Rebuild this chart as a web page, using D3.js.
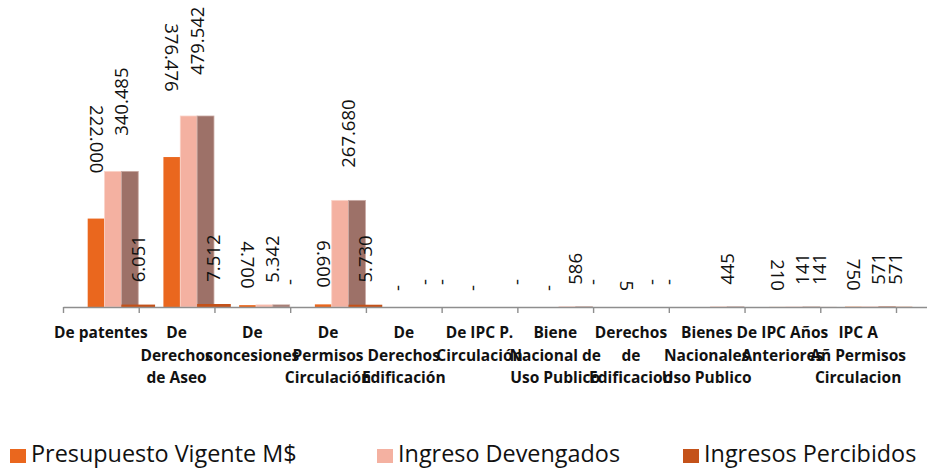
<!DOCTYPE html>
<html>
<head>
<meta charset="utf-8">
<script src="https://cdn.jsdelivr.net/npm/d3@7"></script>
<style>
  body { margin: 0; background: #fff; }
  svg { display: block; font-family: "Open Sans", sans-serif; }
</style>
</head>
<body>
<svg id="grafico"></svg>
<script>
const WIDTH = 927,
    HEIGHT = 468;

// etiquetas del eje, ya cortadas en lineas como en el original
const etiquetasCategorias = [
    ["De patentes"],
    ["De", "Derechos", "de Aseo"],
    ["De", "concesiones"],
    ["De", "Permisos", "Circulación"],
    ["De", "Derechos", "Edificación"],
    ["De IPC P.", "Circulación"],
    ["Biene", "Nacional de", "Uso Publico"],
    ["Derechos", "de", "Edificacion"],
    ["Bienes", "Nacionales", "Uso Publico"],
    ["De IPC Años", "Anteriores"],
    ["IPC A", "Añ Permisos", "Circulacion"]
];
const categorias = etiquetasCategorias.map(l => l.join(" "));

const presupuestoVigente = [222000, 376476, 4700, 6600, 0, 0, 0, 5, null, 210, 750];
const ingresoDevengados = [340485, 479542, 5342, 267680, 0, null, 586, 0, 445, 141, 571];
const devengadosSinLeyenda = [340485, 479542, 5342, 267680, 0, 0, 586, 0, 445, 141, 571];
const ingresosPercibidos = [6051, 7512, 0, 5730, 0, 0, 0, 0, null, 141, 571];

const leyenda = ["Presupuesto Vigente M$", "Ingreso Devengados", "Ingresos Percibidos"];

const colores = {
    presupuesto: "#EA671E",
    devengado: "#F4B1A1",
    sinLeyenda: "#9D7168",
    percibido: "#C4521A"
};

const base = 307;

const svg = d3.select("#grafico")
    .attr("width", WIDTH)
    .attr("height", HEIGHT);

svg.append("rect").attr("width", WIDTH).attr("height", HEIGHT).attr("fill", "#fff");

const escalaX = d3.scaleBand()
    .domain(categorias)
    .range([63, 896])
    .padding(0);
const bw = escalaX.bandwidth();

// cada grupo de barras arranca corrido dentro de su categoria
const escalaSerie = d3.scaleBand()
    .domain([0, 1, 2, 3])
    .range([bw * 0.326, bw * (0.326 + 4 * 0.2225)]);
const sw = escalaSerie.bandwidth();

const maximo = d3.max([...presupuestoVigente, ...ingresoDevengados, ...ingresosPercibidos]);
const escalaY = d3.scaleLinear()
    .domain([0, maximo])
    .range([base, 116]);

const series = [
    {valores: presupuestoVigente, slot: 0, ancho: 1, color: colores.presupuesto, borde: "none"},
    {valores: ingresoDevengados, slot: 1, ancho: 1, color: colores.devengado, borde: "#FAD3C8"},
    {valores: devengadosSinLeyenda, slot: 2, ancho: 1, color: colores.sinLeyenda, borde: "#C9A9A2"},
    {valores: ingresosPercibidos, slot: 2, ancho: 2, color: colores.percibido, borde: "none"}
];

const contenedorBarras = svg.append("g");

series.forEach(s => {
    contenedorBarras.append("g")
        .selectAll("rect")
        .data(categorias.map((c, i) => ({c, v: s.valores[i]})).filter(d => d.v != null && d.v > 0))
        .join("rect")
        .attr("x", d => escalaX(d.c) + escalaSerie(s.slot))
        .attr("width", sw * s.ancho)
        .attr("y", d => escalaY(d.v))
        .attr("height", d => base - escalaY(d.v))
        .attr("fill", s.color)
        .attr("stroke", s.borde)
        .attr("stroke-width", 0.8);
});

// eje: las marcas van entre categorias, la linea sigue hasta el borde
const escalaBordes = d3.scaleLinear()
    .domain([0, categorias.length + 1])
    .range([63, 63 + (categorias.length + 1) * bw]);

const ejeX = svg.append("g")
    .attr("transform", `translate(0 ${base})`)
    .call(d3.axisBottom(escalaBordes)
        .ticks(categorias.length + 1)
        .tickFormat("")
        .tickSizeInner(6)
        .tickSizeOuter(0));
ejeX.select(".domain").attr("stroke", "#8E8E8E").attr("stroke-width", 1.6);
ejeX.selectAll(".tick line").attr("stroke", "#8E8E8E").attr("stroke-width", 1.4);

svg.append("g")
    .selectAll("text")
    .data(etiquetasCategorias.map((lineas, i) => ({lineas, c: categorias[i]})))
    .join("text")
    .attr("text-anchor", "middle")
    .attr("font-weight", "bold")
    .attr("font-size", "15.5px")
    .attr("fill", "#111")
    .each(function(d) {
        const t = d3.select(this);
        d.lineas.forEach((l, j) => {
            t.append("tspan")
                .attr("x", escalaX(d.c) + bw / 2)
                .attr("y", 338 + j * 22.5)
                .text(l);
        });
    });

// etiquetas de datos (la de devengados va entre sus dos barras)
const formato = v => v === 0 ? "-" : d3.format(",")(v).replace(/,/g, ".");

const etiquetas = [
    {valores: presupuestoVigente, centro: escalaSerie(0) + sw / 2, giro: 90, sep: [16, 0.33]},
    {valores: ingresoDevengados, centro: escalaSerie(2), giro: -90, sep: [22, 0.1]},
    {valores: ingresosPercibidos, centro: escalaSerie(2) + sw, giro: -90, sep: [22, 0.1]}
];

const contenedorEtiquetas = svg.append("g")
    .attr("font-size", "18.5px")
    .attr("fill", "#111");

etiquetas.forEach(e => {
    contenedorEtiquetas.append("g")
        .selectAll("text")
        .data(categorias.map((c, i) => ({c, v: e.valores[i]})).filter(d => d.v != null))
        .join("text")
        .attr("transform", d => {
            const yv = escalaY(d.v);
            const yb = yv - (e.sep[0] + e.sep[1] * (base - yv));
            return `translate(${escalaX(d.c) + e.centro} ${yb}) rotate(${e.giro})`;
        })
        .attr("text-anchor", e.giro > 0 ? "end" : "start")
        .attr("dy", "0.35em")
        .text(d => formato(d.v));
});

// leyenda
const itemsLeyenda = [
    {texto: leyenda[0], color: colores.presupuesto, x: 10},
    {texto: leyenda[1], color: colores.devengado, x: 377},
    {texto: leyenda[2], color: colores.percibido, x: 683}
];

const grupoLeyenda = svg.append("g")
    .selectAll("g")
    .data(itemsLeyenda)
    .join("g")
    .attr("transform", d => `translate(${d.x} 0)`);

grupoLeyenda.append("rect")
    .attr("y", 449)
    .attr("width", 16)
    .attr("height", 14)
    .attr("fill", d => d.color);

grupoLeyenda.append("text")
    .attr("x", 21)
    .attr("y", 462)
    .attr("font-size", "23.4px")
    .attr("fill", "#111")
    .text(d => d.texto);
</script>
</body>
</html>
